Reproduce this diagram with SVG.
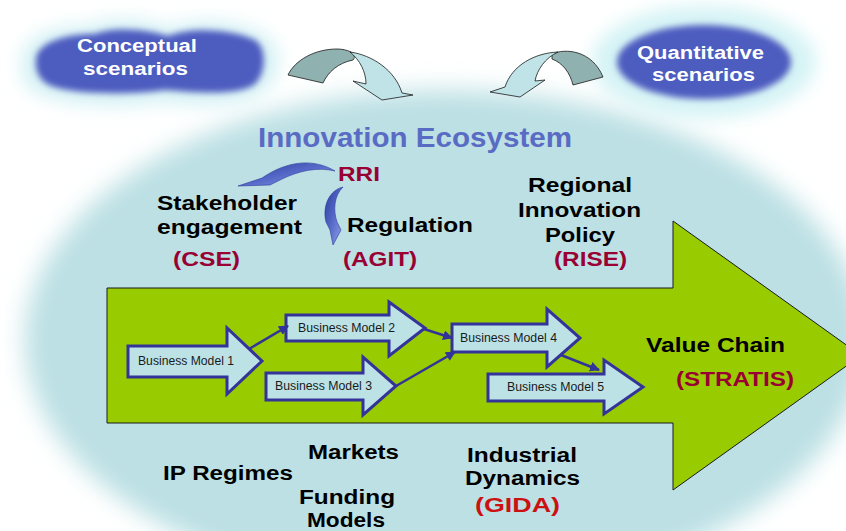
<svg xmlns="http://www.w3.org/2000/svg" width="846" height="531" viewBox="0 0 846 531">
  <defs>
    <filter id="soft" x="-20%" y="-20%" width="140%" height="140%">
      <feGaussianBlur stdDeviation="12"/>
    </filter>
    <filter id="halo" x="-40%" y="-80%" width="180%" height="260%">
      <feGaussianBlur stdDeviation="9"/>
    </filter>
    <filter id="core" x="-20%" y="-40%" width="140%" height="180%">
      <feGaussianBlur stdDeviation="3"/>
    </filter>
    <linearGradient id="swoosh" x1="0" y1="0" x2="1" y2="1">
      <stop offset="0" stop-color="#2b3b9c"/>
      <stop offset="0.5" stop-color="#5669c8"/>
      <stop offset="1" stop-color="#93a6ea"/>
    </linearGradient>
    <marker id="head" viewBox="0 0 10 10" refX="9" refY="5" markerWidth="4" markerHeight="4" orient="auto">
      <path d="M0,0 L10,5 L0,10 Z" fill="#333399"/>
    </marker>
    <style>
      .lbl { font-family: "Liberation Sans", Arial, sans-serif; font-weight: bold; font-size: 20px; fill: #000; }
      .red { font-family: "Liberation Sans", Arial, sans-serif; font-weight: bold; font-size: 20px; fill: #990033; }
      .cloudtxt { font-family: "Liberation Sans", Arial, sans-serif; font-weight: bold; font-size: 18px; fill: #fff; }
      .bm { fill: #bde2e6; stroke: #333399; stroke-width: 3; stroke-linejoin: miter; }
      .bmtxt { font-family: "Liberation Sans", Arial, sans-serif; font-size: 12px; fill: #1a1a1a; }
      .link { fill: none; stroke: #333399; stroke-width: 2.5; marker-end: url(#head); }
      .back { fill: #8fb1b0; stroke: #1a1a1a; stroke-width: 0.8; }
      .front { fill: #bfe3e6; stroke: #1a1a1a; stroke-width: 0.8; }
      .swoosh { fill: url(#swoosh); stroke: #2b3b9c; stroke-width: 0.6; }
    </style>
  </defs>

  <rect width="846" height="531" fill="#fff"/>

  <!-- soft-edged ecosystem field -->
  <ellipse cx="445" cy="340" rx="420" ry="250" fill="#bce0e4" filter="url(#soft)"/>

  <!-- scenario clouds -->
  <g id="cloud-conceptual">
    <path d="M22,62 C20,40 50,24 90,26 C110,14 150,20 170,28 C195,16 240,20 262,34 C285,42 282,80 262,92 C240,110 190,104 160,102 C120,108 70,106 45,96 C25,90 20,78 22,62 Z" fill="#d4f1f4" filter="url(#halo)"/>
    <path d="M36,60 C36,44 62,34 95,34 C115,26 150,30 168,36 C192,26 235,30 255,40 C268,48 266,78 252,86 C232,96 192,92 165,90 C130,95 82,94 58,88 C40,84 35,72 36,60 Z" fill="#4d5cbf" filter="url(#core)"/>
    <text class="cloudtxt" x="77" y="52" textLength="120" lengthAdjust="spacingAndGlyphs">Conceptual</text>
    <text class="cloudtxt" x="83" y="75" textLength="105" lengthAdjust="spacingAndGlyphs">scenarios</text>
  </g>
  <g id="cloud-quantitative">
    <ellipse cx="704" cy="62" rx="112" ry="56" fill="#d4f3f5" filter="url(#halo)"/>
    <ellipse cx="704" cy="62" rx="87" ry="37" fill="#4d5cbf" filter="url(#core)"/>
    <text class="cloudtxt" x="637" y="59" textLength="127" lengthAdjust="spacingAndGlyphs">Quantitative</text>
    <text class="cloudtxt" x="652" y="81" textLength="103" lengthAdjust="spacingAndGlyphs">scenarios</text>
  </g>

  <!-- ribbon arrows between the clouds and the field -->
  <g id="ribbon-left">
    <path class="back" d="M288,75 C295,60 315,49 337,49 C342,49 347,50 351,52 C355,55 355,58 353,60 C338,63 328,72 323,83 Z"/>
    <path class="front" d="M350,52 C372,55 395,70 402,93 L413,95 L382,100 L353,81 L366,84 C366,72 360,60 350,52 Z"/>
  </g>
  <g id="ribbon-right">
    <path class="back" d="M552,54 C565,48 592,50 603,77 L573,85 C570,73 563,63 552,59 Z"/>
    <path class="front" d="M558,52 C535,53 512,65 505,87 L490,92 L520,97 L545,80 L535,81 C537,70 545,58 558,52 Z"/>
  </g>

  <text id="title" x="258" y="147" font-family="Liberation Sans, Arial, sans-serif" font-weight="bold" font-size="28" fill="#5a6bc4" textLength="314" lengthAdjust="spacingAndGlyphs">Innovation Ecosystem</text>

  <!-- RRI and its two swooshes -->
  <g id="rri">
    <path class="swoosh" d="M335,171 C315,159 290,160 265,176 L262,178 L238,186 L270,185 L280,180 C300,170 318,167 335,171 Z"/>
    <path class="swoosh" d="M343,187 C330,190 322,205 326,222 L330,230 L333,245 L341,230 L337,222 C333,210 334,196 343,187 Z"/>
    <text class="red" x="338" y="181" textLength="42" lengthAdjust="spacingAndGlyphs">RRI</text>
  </g>
  <g id="stakeholder">
    <text class="lbl" x="157" y="210" textLength="140" lengthAdjust="spacingAndGlyphs">Stakeholder</text>
    <text class="lbl" x="157" y="234" textLength="145" lengthAdjust="spacingAndGlyphs">engagement</text>
    <text class="red" x="173" y="266" textLength="67" lengthAdjust="spacingAndGlyphs">(CSE)</text>
  </g>
  <g id="regulation">
    <text class="lbl" x="347" y="232" textLength="126" lengthAdjust="spacingAndGlyphs">Regulation</text>
    <text class="red" x="343" y="266" textLength="74" lengthAdjust="spacingAndGlyphs">(AGIT)</text>
  </g>
  <g id="regional">
    <text class="lbl" x="528" y="192" textLength="104" lengthAdjust="spacingAndGlyphs">Regional</text>
    <text class="lbl" x="518" y="217" textLength="123" lengthAdjust="spacingAndGlyphs">Innovation</text>
    <text class="lbl" x="545" y="242" textLength="70" lengthAdjust="spacingAndGlyphs">Policy</text>
    <text class="red" x="554" y="266" textLength="73" lengthAdjust="spacingAndGlyphs">(RISE)</text>
  </g>

  <!-- value chain arrow -->
  <g id="value-chain">
    <path d="M107,288 L673,288 L673,221 L861,355.5 L673,490 L673,423 L107,423 Z" fill="#99cc00" stroke="#1a1a1a" stroke-width="1"/>
    <text class="lbl" x="646" y="352" font-size="21" textLength="139" lengthAdjust="spacingAndGlyphs">Value Chain</text>
    <text class="red" x="676" y="386" textLength="118" lengthAdjust="spacingAndGlyphs">(STRATIS)</text>
  </g>

  <!-- business models -->
  <g id="bm1">
    <path class="bm" d="M128,346 L227,346 L227,328 L262,361 L227,394 L227,377 L128,377 Z"/>
    <text class="bmtxt" x="138" y="365" textLength="96" lengthAdjust="spacingAndGlyphs">Business Model 1</text>
  </g>
  <g id="bm2">
    <path class="bm" d="M286,315 L389,315 L389,302 L425,328 L389,356 L389,341 L286,341 Z"/>
    <text class="bmtxt" x="298" y="332" textLength="97" lengthAdjust="spacingAndGlyphs">Business Model 2</text>
  </g>
  <g id="bm3">
    <path class="bm" d="M266,373 L363,373 L363,357 L396,386 L363,415 L363,400 L266,400 Z"/>
    <text class="bmtxt" x="275" y="390" textLength="97" lengthAdjust="spacingAndGlyphs">Business Model 3</text>
  </g>
  <g id="bm4">
    <path class="bm" d="M452,324 L547,324 L547,309 L580,338 L547,367 L547,352 L452,352 Z"/>
    <text class="bmtxt" x="460" y="342" textLength="97" lengthAdjust="spacingAndGlyphs">Business Model 4</text>
  </g>
  <g id="bm5">
    <path class="bm" d="M488,374 L604,374 L604,360 L643,387 L604,414 L604,401 L488,401 Z"/>
    <text class="bmtxt" x="507" y="391" textLength="97" lengthAdjust="spacingAndGlyphs">Business Model 5</text>
  </g>

  <g id="connectors">
    <line class="link" x1="249" y1="349" x2="288" y2="326"/>
    <line class="link" x1="424" y1="329" x2="452" y2="338"/>
    <line class="link" x1="396" y1="386" x2="455" y2="352"/>
    <line class="link" x1="561" y1="355" x2="599" y2="370"/>
  </g>

  <!-- framework conditions -->
  <g id="ip-regimes">
    <text class="lbl" x="163" y="480" textLength="130" lengthAdjust="spacingAndGlyphs">IP Regimes</text>
  </g>
  <g id="markets">
    <text class="lbl" x="308" y="459" textLength="91" lengthAdjust="spacingAndGlyphs">Markets</text>
  </g>
  <g id="funding">
    <text class="lbl" x="299" y="504" textLength="96" lengthAdjust="spacingAndGlyphs">Funding</text>
    <text class="lbl" x="307" y="527" textLength="78" lengthAdjust="spacingAndGlyphs">Models</text>
  </g>
  <g id="industrial">
    <text class="lbl" x="467" y="462" textLength="110" lengthAdjust="spacingAndGlyphs">Industrial</text>
    <text class="lbl" x="465" y="485" textLength="115" lengthAdjust="spacingAndGlyphs">Dynamics</text>
    <text class="red" x="475" y="512" fill="#cc1111" style="fill:#cc1111" textLength="85" lengthAdjust="spacingAndGlyphs">(GIDA)</text>
  </g>
</svg>
